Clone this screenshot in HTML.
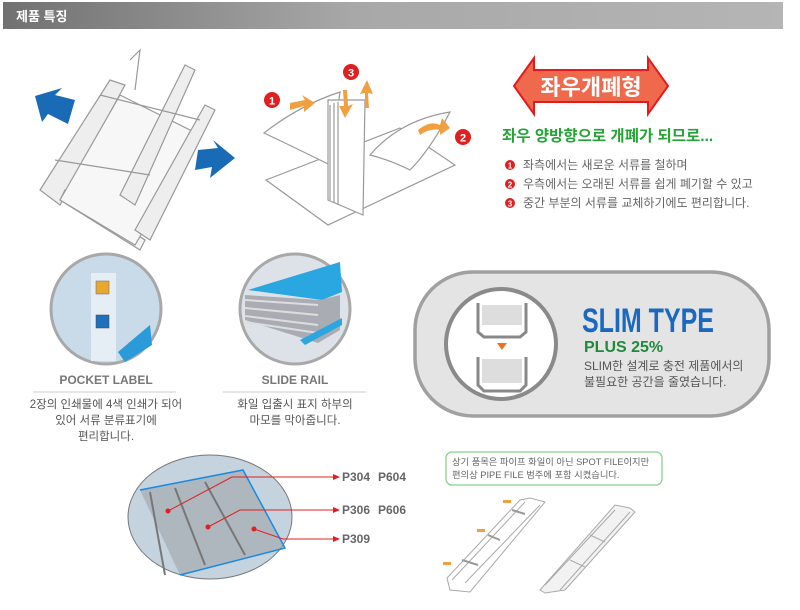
<!DOCTYPE html>
<html><head><meta charset="utf-8"><style>
html,body{margin:0;padding:0;background:#fff;}
body{width:800px;height:610px;overflow:hidden;position:relative;font-family:"Liberation Sans","Noto Sans CJK KR",sans-serif;}
svg{position:absolute;left:0;top:0;}
svg text{font-family:"Liberation Sans","Noto Sans CJK KR",sans-serif;}
</style></head><body>
<svg width="800" height="610" viewBox="0 0 800 610">
<defs>
<linearGradient id="hd" x1="0" x2="1"><stop offset="0" stop-color="#717171"/><stop offset="0.45" stop-color="#a8a8a8"/><stop offset="1" stop-color="#b5b5b5"/></linearGradient>
</defs>
<rect x="3" y="2" width="780" height="27" fill="url(#hd)"/>
<text x="16" y="21" fill="#fff" font-size="13" font-weight="bold">제품 특징</text>

<!-- binder illustration -->
<g fill="#eeeeee" stroke="#999" stroke-width="1.2">
<path d="M40 190 L110 80 L125 85 L60 205 Z"/>
<path d="M60 200 L140 250 L145 240 L65 190Z" fill="#f4f4f4"/>
<path d="M60 200 L120 95 L200 135 L135 245 Z" fill="#f7f7f7"/>
<path d="M120 195 L185 65 L195 70 L135 205 Z"/>
<path d="M135 230 L205 105 L215 110 L150 240 Z"/>
<path d="M100 95 L200 120 M55 160 L150 175" fill="none"/>
<path d="M130 60 L140 50 L135 90" fill="none"/>
</g>
<path d="M75 100 L55 95 L62 88 L35 96 L42 122 L48 114 L68 124 Z" fill="#1a6bb5"/>
<path d="M198 150 L218 148 L213 140 L235 158 L210 178 L212 167 L195 170 Z" fill="#1a6bb5"/>

<!-- papers illustration -->
<g fill="#fff" stroke="#999" stroke-width="1.2">
<path d="M266 180 L400 128 L455 165 L328 225 Z"/>
<path d="M264 133 Q300 105 340 92 L330 165 Q300 150 264 133Z"/>
<path d="M328 100 L365 100 L363 215 L328 200Z"/>
<path d="M330 105 L330 200 M334 103 L334 203 M338 102 L338 205"/>
<path d="M370 155 Q400 120 450 112 Q430 150 410 170 Q390 160 370 155Z"/>
</g>
<path d="M290 103 L305 100 L302 95 L315 103 L304 112 L304 106 L290 110Z" fill="#f0a040"/>
<path d="M418 130 Q430 120 440 125 L442 118 L450 128 L440 135 L440 130 Q430 128 420 135Z" fill="#f0a040"/>
<path d="M343 90 L347 90 L348 106 L353 104 L345 118 L339 106 L344 106Z" fill="#f0a040"/>
<path d="M365 108 L369 108 L368 93 L373 94 L367 80 L360 94 L365 93Z" fill="#f0a040"/>
<circle cx="272" cy="100" r="8" fill="#e02020"/><text x="272" y="104.5" fill="#fff" font-size="11" font-weight="bold" text-anchor="middle">1</text>
<circle cx="351" cy="72" r="8" fill="#e02020"/><text x="351" y="76.5" fill="#fff" font-size="11" font-weight="bold" text-anchor="middle">3</text>
<circle cx="463" cy="137" r="8" fill="#e02020"/><text x="463" y="141.5" fill="#fff" font-size="11" font-weight="bold" text-anchor="middle">2</text>

<!-- double arrow banner -->
<path d="M514 86 L534 58 L534 70 L648 70 L648 58 L668 86 L648 114 L648 102 L534 102 L534 114 Z" fill="#ef6a4c" stroke="#e21c1c" stroke-width="2"/>
<text x="591" y="95" fill="#fff" font-size="22" font-weight="bold" text-anchor="middle">좌우개폐형</text>
<text x="502" y="141" fill="#26a336" font-size="15.5" font-weight="bold">좌우 양방향으로 개폐가 되므로...</text>
<g font-size="12" fill="#666">
<circle cx="510" cy="165" r="5" fill="#e02020"/><text x="510" y="168.5" fill="#fff" font-size="8" font-weight="bold" text-anchor="middle">1</text>
<text x="523" y="169">좌측에서는 새로운 서류를 철하며</text>
<circle cx="510" cy="184" r="5" fill="#e02020"/><text x="510" y="187.5" fill="#fff" font-size="8" font-weight="bold" text-anchor="middle">2</text>
<text x="523" y="188">우측에서는 오래된 서류를 쉽게 폐기할 수 있고</text>
<circle cx="510" cy="203" r="5" fill="#e02020"/><text x="510" y="206.5" fill="#fff" font-size="8" font-weight="bold" text-anchor="middle">3</text>
<text x="523" y="207">중간 부분의 서류를 교체하기에도 편리합니다.</text>
</g>

<!-- pocket label circle -->
<circle cx="106" cy="309" r="55" fill="#c9dae8" stroke="#a8a8a8" stroke-width="3"/>
<rect x="91" y="273" width="25" height="88" fill="#e5eef5"/>
<rect x="96" y="281" width="13" height="13" fill="#e8a830" stroke="#666" stroke-width=".5"/>
<rect x="96" y="315" width="13" height="13" fill="#2070c0" stroke="#444" stroke-width=".5"/>
<path d="M118 352 L150 325 L152 345 L125 362Z" fill="#2a9ad8"/>
<text x="106" y="384" fill="#777" font-size="12" font-weight="bold" text-anchor="middle">POCKET LABEL</text>
<line x1="33" y1="392" x2="176" y2="392" stroke="#ccc"/>
<g fill="#555" font-size="11.5" text-anchor="middle">
<text x="106" y="408">2장의 인쇄물에 4색 인쇄가 되어</text>
<text x="106" y="424">있어 서류 분류표기에</text>
<text x="106" y="440">편리합니다.</text>
</g>

<!-- slide rail circle -->
<circle cx="295" cy="309" r="55" fill="#dde2e8" stroke="#a8a8a8" stroke-width="3"/>
<path d="M248 290 L340 262 L342 292 L322 300 Z" fill="#2aa6e0"/>
<path d="M245 295 L320 300 L340 295 L340 330 L318 343 L245 320Z" fill="#a9adb3"/>
<path d="M245 300 L318 305 M245 308 L318 315 M245 316 L318 325 M245 322 L318 333" stroke="#ddd" stroke-width="2"/>
<path d="M300 340 L342 318 L342 325 L305 345Z" fill="#2aa6e0"/>
<text x="295" y="384" fill="#777" font-size="12" font-weight="bold" text-anchor="middle">SLIDE RAIL</text>
<line x1="223" y1="392" x2="366" y2="392" stroke="#ccc"/>
<g fill="#555" font-size="11.5" text-anchor="middle">
<text x="295" y="408">화일 입출시 표지 하부의</text>
<text x="295" y="424">마모를 막아줍니다.</text>
</g>

<!-- slim type -->
<rect x="415" y="272" width="354" height="144" rx="58" fill="#e4e4e4" stroke="#a0a0a0" stroke-width="3.5"/>
<circle cx="501" cy="344" r="55" fill="#fff" stroke="#8a8a8a" stroke-width="4"/>
<g fill="none" stroke="#888" stroke-width="3">
<path d="M478 303 L478 332 L484 337 L520 337 L526 332 L526 303"/>
<path d="M478 357 L478 385 L484 391 L520 391 L526 385 L526 357"/>
</g>
<rect x="482" y="305" width="40" height="20" fill="#ddd"/>
<rect x="482" y="359" width="40" height="24" fill="#ddd"/>
<path d="M497 343 L507 343 L502 350Z" fill="#f07020"/>
<text x="582" y="0" fill="#1c68be" font-size="30" font-weight="bold" transform="translate(0,332) scale(1,1.15)" textLength="132" lengthAdjust="spacingAndGlyphs">SLIM TYPE</text>
<text x="584" y="352" fill="#1f8a3a" font-size="16" font-weight="bold">PLUS 25%</text>
<text x="584" y="370" fill="#555" font-size="12">SLIM한 설계로 충전 제품에서의</text>
<text x="584" y="386" fill="#555" font-size="12">불필요한 공간을 줄였습니다.</text>

<!-- bottom ellipse -->
<ellipse cx="210" cy="517" rx="82" ry="62" fill="#c5d3df" stroke="#777" stroke-width="1"/>
<path d="M140 490 L243 470 L285 548 L180 575Z" fill="#9fa3a8" opacity=".6"/>
<path d="M150 492 L165 575 M175 488 L205 565 M205 482 L245 555" stroke="#777" stroke-width="2"/>
<path d="M140 490 L243 470 L285 548 L180 575" fill="none" stroke="#1a8ae0" stroke-width="1.5"/>
<g stroke="#e02020" stroke-width="1" fill="none">
<path d="M168 511 L232 477 L334 477"/><path d="M208 527 L240 510 L334 510"/><path d="M254 529 L283 539 L334 539"/>
</g>
<g fill="#e02020"><circle cx="168" cy="511" r="2.5"/><circle cx="208" cy="527" r="2.5"/><circle cx="254" cy="529" r="2.5"/>
<path d="M333 474 L340 477 L333 480Z"/><path d="M333 507 L340 510 L333 513Z"/><path d="M333 536 L340 539 L333 542Z"/></g>
<g fill="#666" font-size="12" font-weight="bold">
<text x="342" y="481">P304</text><text x="378" y="481">P604</text>
<text x="342" y="514">P306</text><text x="378" y="514">P606</text>
<text x="342" y="543">P309</text>
</g>

<!-- note box -->
<rect x="446" y="452" width="216" height="33" rx="6" fill="#fff" stroke="#8cd08c" stroke-width="1.3"/>
<text x="452" y="465" fill="#666" font-size="9.3">상기 품목은  파이프 화일이 아닌 SPOT FILE이지만</text>
<text x="452" y="478" fill="#666" font-size="9.3">편의상 PIPE FILE 범주에 포함 시켰습니다.</text>

<!-- pipe files -->
<g fill="none" stroke="#aaa" stroke-width="1">
<path d="M447 578 L520 500 L530 498 L545 502 L470 592 L450 590Z"/>
<path d="M452 580 L525 502 M465 583 L540 505"/>
<path d="M462 560 L478 565 M488 535 L500 540 M512 510 L525 514" stroke="#999" stroke-width="2"/>
<path d="M540 590 L615 505 L630 508 L635 512 L565 590 L545 593Z" fill="#f2f2f2"/>
<path d="M545 585 L615 510 M560 590 L630 512"/>
<path d="M570 560 L585 567 M590 535 L605 542"/>
</g>
<g fill="#f0a040"><rect x="443" y="562" width="8" height="3"/><rect x="477" y="529" width="8" height="3"/><rect x="503" y="500" width="8" height="3"/></g>
</svg>
</body></html>
